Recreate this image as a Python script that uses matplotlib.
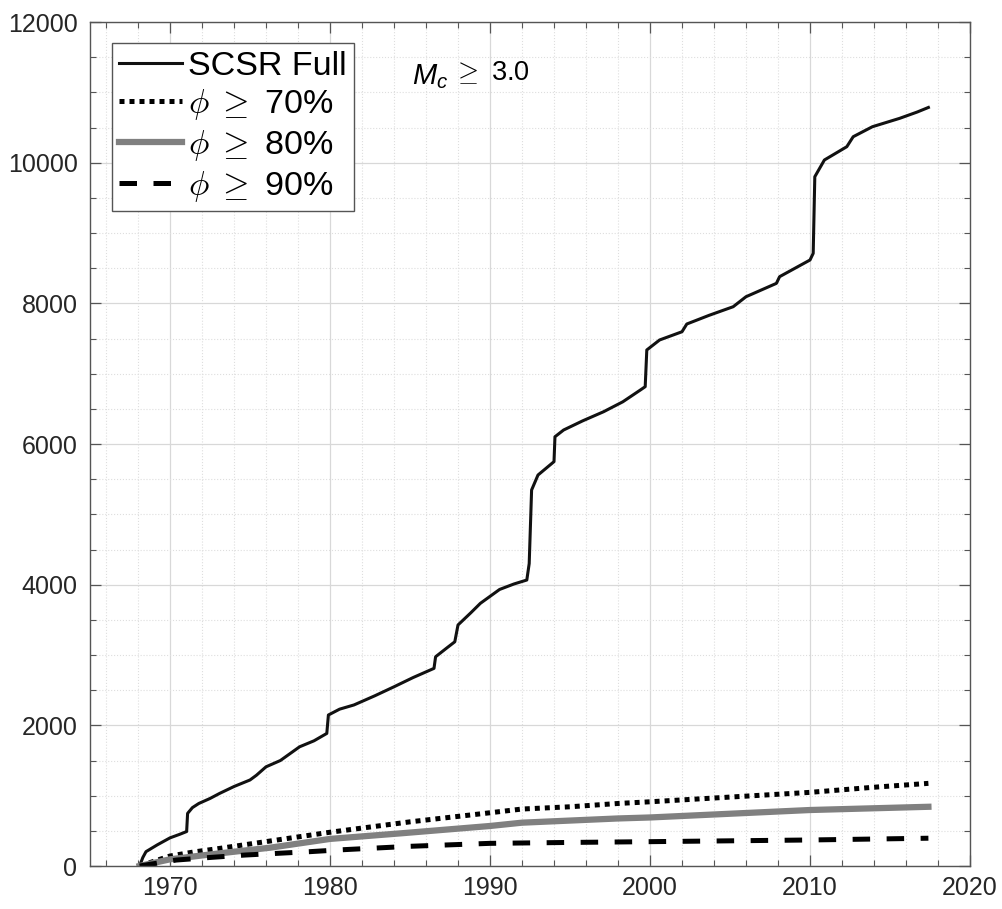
import numpy as np
import matplotlib
matplotlib.use('Agg')
from matplotlib import pyplot as plt
from matplotlib.ticker import MultipleLocator

plt.rcParams['font.family'] = ['Liberation Sans', 'DejaVu Sans']
plt.rcParams['mathtext.fontset'] = 'custom'
plt.rcParams['mathtext.rm'] = 'Liberation Sans'
plt.rcParams['mathtext.it'] = 'Liberation Sans:italic'

# cumulative event counts, full catalogue
full_year = [1968.1, 1968.3, 1968.5, 1969.2, 1970.0, 1970.6, 1971.04, 1971.1, 1971.4, 1971.8,
             1972.5, 1973.1, 1974.0, 1975.0, 1975.4, 1976.0, 1976.9, 1978.1, 1979.0, 1979.8,
             1979.9, 1980.6, 1981.5, 1982.8, 1984.0, 1985.2, 1986.5, 1986.6, 1987.3, 1987.8,
             1988.0, 1988.8, 1989.4, 1990.6, 1991.5, 1992.3, 1992.45, 1992.6, 1993.0, 1994.0,
             1994.06, 1994.6, 1995.8, 1997.1, 1998.3, 1999.4, 1999.7, 1999.8, 2000.6, 2002.0,
             2002.3, 2003.7, 2005.2, 2006.0, 2007.9, 2008.1, 2010.0, 2010.2, 2010.3, 2010.9,
             2012.3, 2012.7, 2013.9, 2015.6, 2016.7, 2017.4]
full_count = [0, 120, 204, 300, 400, 450, 490, 748, 830, 889,
              960, 1032, 1130, 1223, 1290, 1410, 1500, 1695, 1780, 1885,
              2147, 2230, 2290, 2420, 2548, 2680, 2810, 2975, 3100, 3188,
              3427, 3600, 3735, 3932, 4010, 4066, 4300, 5346, 5559, 5749,
              6103, 6199, 6330, 6459, 6600, 6768, 6815, 7337, 7479, 7596,
              7706, 7830, 7952, 8094, 8284, 8379, 8616, 8711, 9800, 10038,
              10227, 10369, 10511, 10630, 10720, 10785]

p70_year = [1968.1, 1970.0, 1971.5, 1973.1, 1976.25, 1980.0, 1985.0, 1990.0, 1992.0, 1995.0,
            1998.0, 2000.0, 2005.0, 2010.0, 2014.0, 2017.4]
p70_count = [0, 142, 200, 250, 355, 480, 628, 757, 810, 842,
             889, 913, 980, 1047, 1120, 1175]

p80_year = [1968.1, 1970.0, 1973.1, 1976.25, 1980.0, 1984.4, 1990.0, 1992.0, 1998.0, 2000.0,
            2010.0, 2017.4]
p80_count = [0, 95, 180, 260, 385, 464, 569, 616, 676, 690,
             796, 842]

p90_year = [1968.1, 1970.4, 1972.6, 1974.7, 1976.7, 1978.75, 1980.5, 1985.0, 1990.0, 1995.0,
            2000.0, 2005.0, 2010.0, 2017.4]
p90_count = [0, 85, 123, 156, 180, 204, 228, 280, 322, 335,
             346, 358, 370, 395]

fig = plt.figure(figsize=(10.03, 9.09), dpi=100)
ax = fig.add_axes([90/1003, 43/909, 880/1003, 844/909])

ax.plot(full_year, full_count, color='#111111', lw=2.2, label='SCSR Full')
ax.plot(p70_year, p70_count, color='black', lw=3.6, linestyle=(0, (1, 1)),
        dash_capstyle='butt', label=r'$\phi\;\geq$ 70%')
ax.plot(p80_year, p80_count, color='#808080', lw=4.5, label=r'$\phi\;\geq$ 80%')
ax.plot(p90_year, p90_count, color='black', lw=3.6, linestyle=(0, (3.5, 3.3)),
        dash_capstyle='butt', label=r'$\phi\;\geq$ 90%')

ax.set_xlim(1965, 2020)
ax.set_ylim(0, 12000)
ax.xaxis.set_major_locator(MultipleLocator(10))
ax.xaxis.set_minor_locator(MultipleLocator(2))
ax.yaxis.set_major_locator(MultipleLocator(2000))
ax.yaxis.set_minor_locator(MultipleLocator(500))

ax.grid(which='major', color='#d8d8d8', lw=0.9, linestyle='-')
ax.grid(which='minor', color='#dedede', lw=0.8, linestyle=':')
ax.set_axisbelow(True)
ax.tick_params(which='both', direction='in', top=True, right=True,
               colors='#555555', labelcolor='#262626', labelsize=18)
ax.tick_params(which='major', length=8, width=0.9)
ax.tick_params(which='minor', length=4, width=0.8)
ax.tick_params(axis='x', pad=7)
ax.tick_params(axis='y', pad=9)
for s in ax.spines.values():
    s.set_color('#555555')
    s.set_linewidth(1.0)

leg = ax.legend(loc='upper left', bbox_to_anchor=(0.025, 0.975), borderaxespad=0,
                fontsize=24.5, handlelength=1.85, handletextpad=0.15, labelspacing=0.17,
                borderpad=0.22, fancybox=False, framealpha=1, edgecolor='#555555')
leg.get_frame().set_linewidth(1.0)
for t in leg.get_texts():
    t.set_math_fontfamily('cm')

# magnitude of completeness note
mc = ax.text(1985.1, 11230, r'$M_c$', fontsize=21, ha='left', va='center',
             math_fontfamily='custom')
ax.annotate(r'$\geq$ 3.0', xy=(1, 0.62), xycoords=mc, xytext=(4, 0),
            textcoords='offset points', fontsize=19.5, ha='left', va='center',
            math_fontfamily='cm')

fig.savefig('out.png', dpi=100, facecolor='white')
